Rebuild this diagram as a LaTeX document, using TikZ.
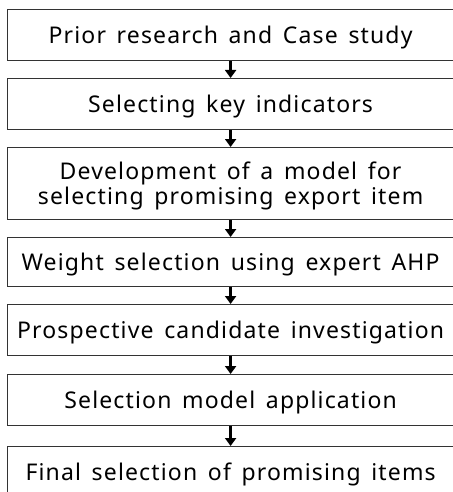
\documentclass[tikz,border=0pt]{standalone}
\usepackage{fontspec}
\setmainfont{Noto Sans}[WordSpace=1.5, LetterSpace=5]
\usetikzlibrary{arrows.meta}
\begin{document}
\begin{tikzpicture}[x=1pt,y=-1pt,
  stepbox/.style={draw=black!80, line width=1.2pt, minimum width=446pt,
    anchor=north west, inner sep=0pt, align=center, fill=white,
    text depth=0pt, font=\fontsize{23}{25}\selectfont},
  flow/.style={-{Triangle[length=8pt,width=11pt]}, line width=2.6pt, black}]
\useasboundingbox (0,0) rectangle (452,492);
\node[stepbox, minimum height=51pt] (s1) at (7,9) {Prior research and Case study};
\node[stepbox, minimum height=51pt] (s2) at (7,78) {Selecting key indicators};
\node[stepbox, minimum height=72pt] (s3) at (7,147) {Development of a model for\\selecting promising export item};
\node[stepbox, minimum height=49pt] (s4) at (7,237) {Weight selection using expert AHP};
\node[stepbox, minimum height=51pt] (s5) at (7,304) {Prospective candidate investigation};
\node[stepbox, minimum height=51pt] (s6) at (7,374) {Selection model application};
\node[stepbox, minimum height=51pt] (s7) at (7,446) {Final selection of promising items};
\foreach \a/\b in {s1/s2,s2/s3,s3/s4,s4/s5,s5/s6,s6/s7}
  \draw[flow] (\a.south) -- (\b.north);
\end{tikzpicture}
\end{document}
